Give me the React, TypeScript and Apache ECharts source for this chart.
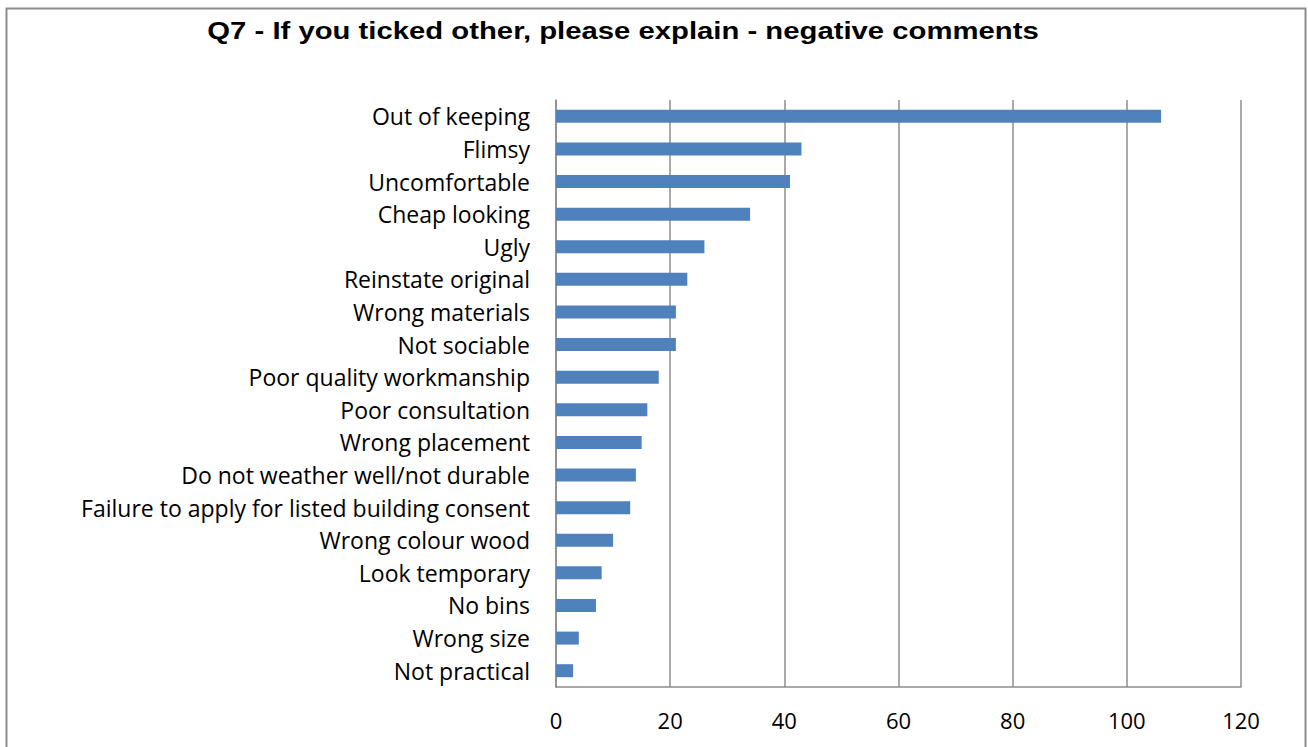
import React, { useEffect, useRef } from "react";
import * as echarts from "echarts";

const titleText = "Q7 - If you ticked other, please explain - negative comments";

const categories = [
  "Out of keeping",
  "Flimsy",
  "Uncomfortable",
  "Cheap looking",
  "Ugly",
  "Reinstate original",
  "Wrong materials",
  "Not sociable",
  "Poor quality workmanship",
  "Poor consultation",
  "Wrong placement",
  "Do not weather well/not durable",
  "Failure to apply for listed building consent",
  "Wrong colour wood",
  "Look temporary",
  "No bins",
  "Wrong size",
  "Not practical",
];

const values = [106, 43, 41, 34, 26, 23, 21, 21, 18, 16, 15, 14, 13, 10, 8, 7, 4, 3];

const xMin = 0;
const xMax = 120;
const xInterval = 20;

const labelFont = "'Open Sans', sans-serif";

export default function App() {
  const ref = useRef<HTMLDivElement>(null);
  useEffect(() => {
    if (!ref.current) return;
    const chart = echarts.init(ref.current, null, { renderer: "svg" });
    chart.setOption({
      animation: false,
      backgroundColor: "#ffffff",
      graphic: [
        {
          type: "rect",
          shape: { x: 6.5, y: 8.5, width: 1299, height: 760 },
          style: { fill: "none", stroke: "#8c8c8c", lineWidth: 2 },
          silent: true,
          z: -1,
        },
        {
          type: "text",
          x: 623,
          y: 31,
          scaleX: 1.22,
          silent: true,
          style: {
            text: titleText,
            fill: "#000",
            font: "bold 24px 'Liberation Sans', Arial, sans-serif",
            align: "center",
            verticalAlign: "middle",
          },
        },
      ],
      grid: { left: 556, right: 67, top: 100, bottom: 60, containLabel: false },
      xAxis: {
        type: "value",
        min: xMin,
        max: xMax,
        interval: xInterval,
        axisLine: { show: true, lineStyle: { color: "#8c8c8c", width: 1.5 } },
        axisTick: { show: false },
        splitLine: { show: true, lineStyle: { color: "#8c8c8c", width: 1.5 } },
        axisLabel: {
          color: "#000",
          fontFamily: labelFont,
          fontSize: 22,
          margin: 22,
        },
      },
      yAxis: {
        type: "category",
        data: categories,
        inverse: true,
        axisLine: { show: true, lineStyle: { color: "#8c8c8c", width: 1.5 } },
        axisTick: { show: false },
        splitLine: { show: false },
        axisLabel: {
          color: "#000",
          fontFamily: labelFont,
          fontSize: 23,
          margin: 26,
        },
      },
      series: [
        {
          type: "bar",
          data: values,
          barWidth: 13,
          itemStyle: { color: "#4f81bd" },
        },
      ],
    });
    return () => chart.dispose();
  }, []);
  return (
    <div
      ref={ref}
      style={{ position: "fixed", left: 0, top: 0, width: 1308, height: 747 }}
    />
  );
}
